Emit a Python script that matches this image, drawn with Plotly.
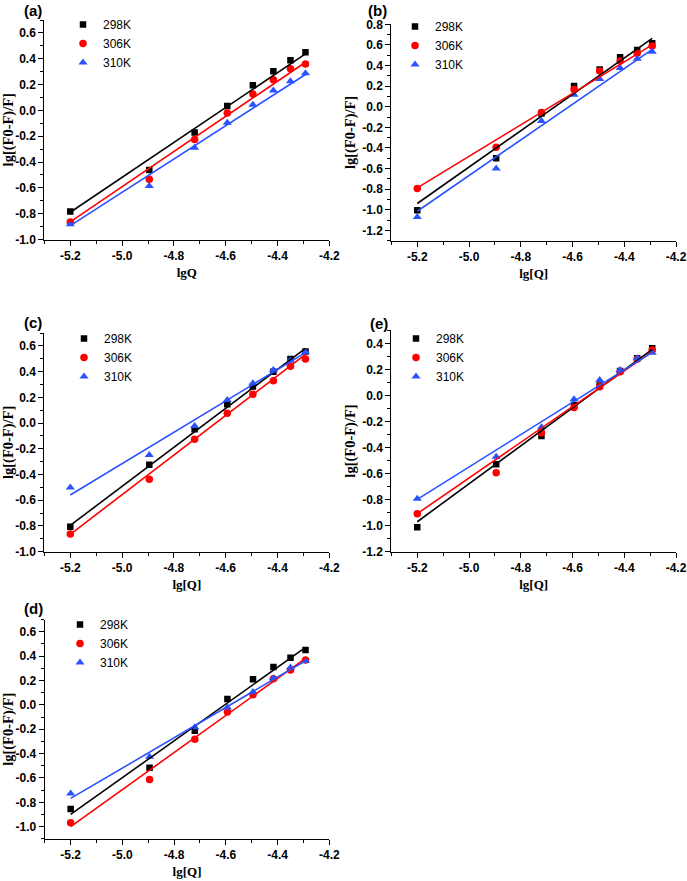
import plotly.graph_objects as go

# ---------------- data ----------------
lgQ = [-5.2, -4.895, -4.72, -4.594, -4.495, -4.416, -4.35, -4.292]

series_names = ["298K", "306K", "310K"]

# panel (a)
a_298 = [-0.784, -0.462, -0.171, 0.033, 0.195, 0.304, 0.389, 0.450]
a_306 = [-0.864, -0.534, -0.225, -0.021, 0.126, 0.237, 0.322, 0.360]
a_310 = [-0.882, -0.585, -0.289, -0.096, 0.043, 0.154, 0.226, 0.288]
a_fit_298 = [-0.789, 0.438]
a_fit_306 = [-0.864, 0.373]
a_fit_310 = [-0.892, 0.278]

# panel (b)
b_298 = [-1.006, -0.500, -0.066, 0.200, 0.362, 0.479, 0.550, 0.615]
b_306 = [-0.795, -0.393, -0.056, 0.168, 0.346, 0.443, 0.518, 0.589]
b_310 = [-1.070, -0.600, -0.140, 0.116, 0.268, 0.375, 0.466, 0.534]
b_fit_298 = [-0.940, 0.664]
b_fit_306 = [-0.788, 0.600]
b_fit_310 = [-1.015, 0.557]

# panel (c)
c_298 = [-0.806, -0.323, -0.048, 0.146, 0.284, 0.400, 0.499, 0.556]
c_306 = [-0.863, -0.437, -0.126, 0.076, 0.224, 0.330, 0.442, 0.499]
c_310 = [-0.500, -0.248, -0.022, 0.180, 0.310, 0.413, 0.486, 0.553]
c_fit_298 = [-0.795, 0.582]
c_fit_306 = [-0.865, 0.535]
c_fit_310 = [-0.559, 0.548]

# panel (e)
e_298 = [-1.013, -0.529, -0.312, -0.074, 0.077, 0.188, 0.285, 0.362]
e_306 = [-0.908, -0.593, -0.286, -0.092, 0.067, 0.182, 0.280, 0.349]
e_310 = [-0.793, -0.470, -0.245, -0.030, 0.118, 0.195, 0.285, 0.328]
e_fit_298 = [-0.970, 0.354]
e_fit_306 = [-0.908, 0.336]
e_fit_310 = [-0.798, 0.330]

# panel (d)
d_298 = [-0.855, -0.516, -0.212, 0.047, 0.209, 0.310, 0.387, 0.450]
d_306 = [-0.967, -0.612, -0.283, -0.059, 0.083, 0.214, 0.285, 0.368]
d_310 = [-0.727, -0.426, -0.185, -0.021, 0.105, 0.217, 0.307, 0.359]
d_fit_298 = [-0.899, 0.471]
d_fit_306 = [-1.000, 0.381]
d_fit_310 = [-0.768, 0.362]

x_ticks = [-5.2, -5.0, -4.8, -4.6, -4.4, -4.2]
x_ticklabels = ["-5.2", "-5.0", "-4.8", "-4.6", "-4.4", "-4.2"]

y_ticks_1 = [-1.0, -0.8, -0.6, -0.4, -0.2, 0.0, 0.2, 0.4, 0.6]
y_ticklabels_1 = ["-1.0", "-0.8", "-0.6", "-0.4", "-0.2", "0.0", "0.2", "0.4", "0.6"]
y_ticks_b = [-1.2, -1.0, -0.8, -0.6, -0.4, -0.2, 0.0, 0.2, 0.4, 0.6, 0.8]
y_ticklabels_b = ["-1.2", "-1.0", "-0.8", "-0.6", "-0.4", "-0.2", "0.0", "0.2", "0.4", "0.6", "0.8"]
y_ticks_e = [-1.2, -1.0, -0.8, -0.6, -0.4, -0.2, 0.0, 0.2, 0.4]
y_ticklabels_e = ["-1.2", "-1.0", "-0.8", "-0.6", "-0.4", "-0.2", "0.0", "0.2", "0.4"]

# ---------------- styling ----------------
W, H = 687, 881
colors = ["#000000", "#ff0000", "#2a52ff"]
symbols = ["square", "circle", "triangle-up"]
msizes = [6.5, 7.5, 8]

TICKFONT = dict(family="Arial", size=12, color="#000000", weight="bold")
TITLEFONT = dict(family="Times New Roman", size=13, color="#000000", weight="bold")
YTITLEFONT = dict(family="Times New Roman", size=14.5, color="#000000", weight="bold")


def px_x(p):
    return p / W


def px_y(p):
    return 1 - p / H


panels = [
    # label, xtitle, data, fits, yrange, yticks, ylabels, x px domain, y px (top, bottom), label pos, legend (marker x, middle row y)
    ("(a)", "lgQ", (a_298, a_306, a_310), (a_fit_298, a_fit_306, a_fit_310),
     [-1.0, 0.7], y_ticks_1, y_ticklabels_1, (44.4, 329.3), (20.0, 239.5), (33, 11), (87, 43)),
    ("(b)", "lg[Q]", (b_298, b_306, b_310), (b_fit_298, b_fit_306, b_fit_310),
     [-1.3, 0.8], y_ticks_b, y_ticklabels_b, (391.4, 676.0), (24.3, 240.6), (377, 11), (419, 45)),
    ("(c)", "lg[Q]", (c_298, c_306, c_310), (c_fit_298, c_fit_306, c_fit_310),
     [-1.0, 0.7], y_ticks_1, y_ticklabels_1, (44.4, 329.3), (333.1, 551.7), (33, 322), (88, 357)),
    ("(e)", "lg[Q]", (e_298, e_306, e_310), (e_fit_298, e_fit_306, e_fit_310),
     [-1.2, 0.5], y_ticks_e, y_ticklabels_e, (391.4, 676.0), (330.3, 551.7), (379, 323), (420, 357)),
    ("(d)", "lg[Q]", (d_298, d_306, d_310), (d_fit_298, d_fit_306, d_fit_310),
     [-1.1, 0.7], y_ticks_1, y_ticklabels_1, (44.8, 329.3), (619.5, 838.9), (33, 608), (84, 643)),
]

fig = go.Figure()
layout_upd = {}
annotations = []
fit_x = [lgQ[0], lgQ[-1]]

for i, (label, xtitle, data, fits, yrange, yticks, ylabels, xdom, ydom, lpos, legpos) in enumerate(panels):
    n = i + 1
    xa = "x" if n == 1 else f"x{n}"
    ya = "y" if n == 1 else f"y{n}"
    leg = "legend" if n == 1 else f"legend{n}"

    for k in range(3):
        fig.add_trace(go.Scatter(
            x=lgQ, y=data[k], mode="markers", name=series_names[k],
            marker=dict(symbol=symbols[k], size=msizes[k], color=colors[k], line=dict(width=0)),
            xaxis=xa, yaxis=ya, legend=leg, showlegend=True,
        ))
    for k in range(3):
        fig.add_trace(go.Scatter(
            x=fit_x, y=fits[k], mode="lines",
            line=dict(color=colors[k], width=1.6),
            xaxis=xa, yaxis=ya, showlegend=False, hoverinfo="skip",
        ))

    xkey = "xaxis" if n == 1 else f"xaxis{n}"
    ykey = "yaxis" if n == 1 else f"yaxis{n}"
    common = dict(
        showline=True, linecolor="#000000", linewidth=1.3,
        ticks="outside", ticklen=5, tickwidth=1.2, tickcolor="#000000",
        showgrid=False, zeroline=False, mirror=False,
        tickfont=TICKFONT, automargin=False, tickmode="array",
        minor=dict(ticks="outside", ticklen=3, tickwidth=1, tickcolor="#000000",
                   tickmode="linear", tick0=0, dtick=0.1, showgrid=False),
    )
    layout_upd[xkey] = dict(
        common, domain=[px_x(xdom[0]), px_x(xdom[1])], range=[-5.3, -4.2],
        tickvals=x_ticks, ticktext=x_ticklabels, anchor=ya,
        title=dict(text=xtitle, font=TITLEFONT, standoff=5),
    )
    layout_upd[ykey] = dict(
        common, domain=[px_y(ydom[1]), px_y(ydom[0])], range=yrange,
        tickvals=yticks, ticktext=ylabels, anchor=xa,
        title=dict(text="lg[(F0-F)/F]", font=YTITLEFONT, standoff=3),
    )
    layout_upd[leg] = dict(
        x=px_x(legpos[0] - 24), y=px_y(legpos[1] - 33), xanchor="left", yanchor="top",
        bgcolor="rgba(0,0,0,0)", borderwidth=0,
        font=dict(family="Arial", size=12, color="#000000"),
        itemsizing="trace",
    )
    annotations.append(dict(
        text=label, x=px_x(lpos[0]), y=px_y(lpos[1]), xref="paper", yref="paper",
        xanchor="center", yanchor="middle", showarrow=False,
        font=dict(family="Arial", size=15, color="#000000", weight="bold"),
    ))

fig.update_layout(
    width=W, height=H, autosize=False,
    margin=dict(l=0, r=0, t=0, b=0),
    paper_bgcolor="#ffffff", plot_bgcolor="#ffffff",
    annotations=annotations,
    **layout_upd,
)

# remove the default page margin so the figure fills the window exactly; hide the mode bar
fig.write_html(
    "out.html",
    config={"displayModeBar": False},
    post_script="document.body.style.margin='0';",
)
